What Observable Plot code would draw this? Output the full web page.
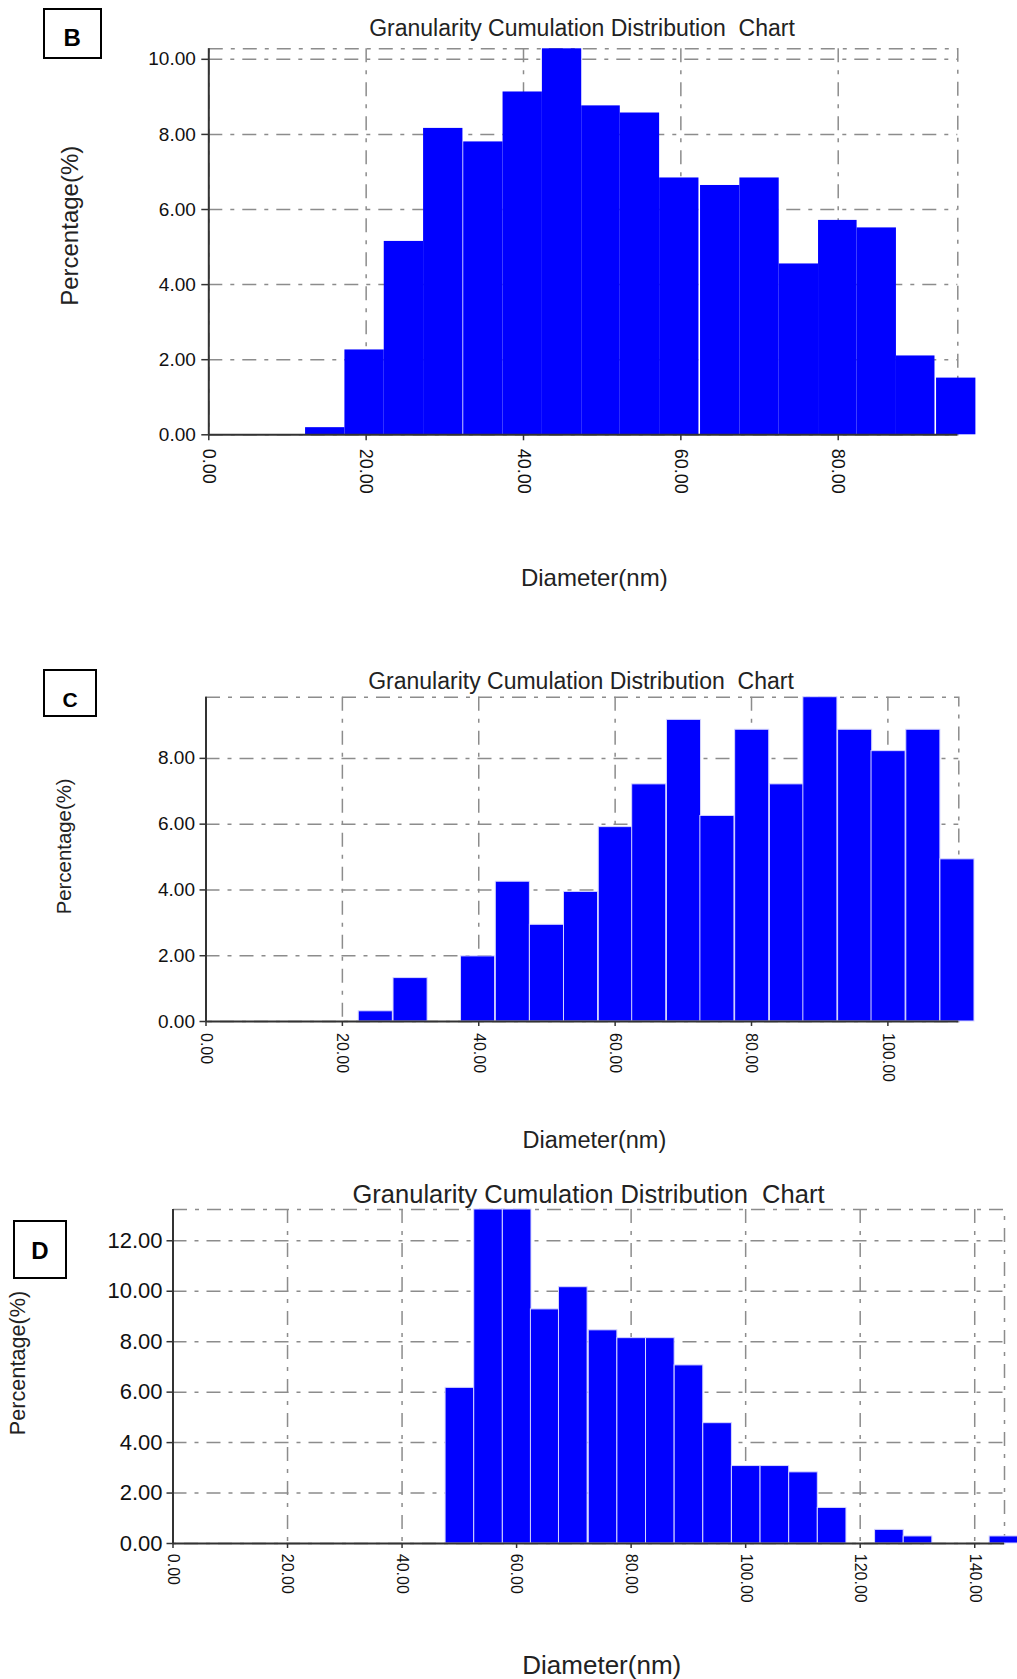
<!DOCTYPE html>
<html>
<head>
<meta charset="utf-8">
<script src="https://cdn.jsdelivr.net/npm/d3@7"></script>
<script src="https://cdn.jsdelivr.net/npm/@observablehq/plot@0.6"></script>
<style>
  body { margin: 0; background: #fff; }
  #page { position: relative; width: 1017px; height: 1679px; overflow: hidden; background: #fff;
          font-family: "Liberation Sans", Arial, Helvetica, sans-serif; }
  .title { position: absolute; white-space: nowrap; text-align: center; line-height: 1; color: #222; }
  .box { position: absolute; box-sizing: border-box; border: 2px solid #000; }
  .letter { position: absolute; text-align: center; line-height: 1; font-weight: bold; color: #000; }
  .panel { position: absolute; left: 0; }
  .panel svg { overflow: visible; }
</style>
</head>
<body>
<div id="page"></div>
<script>
// ---------- text ----------
const titleText = "Granularity Cumulation Distribution\u00a0 Chart";
const xLabel = "Diameter(nm)";
const yLabel = "Percentage(%)";
const panelLetters = ["B", "C", "D"];

// ---------- panel B ----------
const bStart = [12.3, 17.3, 22.3, 27.3, 32.4, 37.4, 42.4, 47.4, 52.3, 57.3, 62.5, 67.5, 72.5, 77.5, 82.4, 87.4, 92.5];
const bEnd   = [17.3, 22.3, 27.3, 32.3, 37.4, 42.4, 47.4, 52.3, 57.3, 62.3, 67.5, 72.5, 77.5, 82.4, 87.4, 92.3, 97.5];
const bPct   = [0.19, 2.26, 5.15, 8.16, 7.80, 9.13, 10.28, 8.76, 8.57, 6.84, 6.64, 6.84, 4.55, 5.71, 5.51, 2.10, 1.51];
const bXTicks = [0, 20, 40, 60, 80];
const bYTicks = [0, 2, 4, 6, 8, 10];
const bXMax = 95.2, bYMax = 10.28;

// ---------- panel C ----------
const cStart = [22.4, 27.5, 37.4, 42.5, 47.5, 52.5, 57.6, 62.5, 67.6, 72.5, 77.6, 82.7, 87.6, 92.7, 97.6, 102.7, 107.7];
const cPct   = [0.31, 1.32, 1.98, 4.25, 2.94, 3.94, 5.91, 7.21, 9.17, 6.25, 8.87, 7.21, 9.86, 8.87, 8.22, 8.87, 4.93];
const cXTicks = [0, 20, 40, 60, 80, 100];
const cYTicks = [0, 2, 4, 6, 8];
const cXMax = 110.4, cYMax = 9.86;

// ---------- panel D ----------
const dStart = [47.6, 52.6, 57.6, 62.5, 67.4, 72.6, 77.6, 82.6, 87.6, 92.6, 97.6, 102.6, 107.6, 112.6, 122.6, 127.6, 142.6];
const dPct   = [6.17, 13.24, 13.24, 9.28, 10.16, 8.45, 8.14, 8.14, 7.06, 4.77, 3.07, 3.07, 2.82, 1.41, 0.54, 0.28, 0.28];
const dXTicks = [0, 20, 40, 60, 80, 100, 120, 140];
const dYTicks = [0, 2, 4, 6, 8, 10, 12];
const dXMax = 145.2, dYMax = 13.24;

const binWidth = 5;

// ---------- drawing ----------
const page = document.getElementById("page");
const fmt = d3.format(".2f");
const gridColor = "#8c8c8c";
const dash = "14,8,4,8";

function addDiv(cls, text, style) {
  const el = document.createElement("div");
  el.className = cls;
  if (text != null) el.textContent = text;
  Object.assign(el.style, style);
  page.appendChild(el);
  return el;
}

function drawPanel(cfg) {
  const rows = cfg.pct.map((p, i) => ({x1: cfg.start[i], x2: cfg.end[i], y: p}));
  const chart = Plot.plot({
    width: 1017,
    height: cfg.height,
    marginTop: cfg.mt, marginBottom: cfg.mb, marginLeft: cfg.ml, marginRight: cfg.mr,
    style: {fontFamily: '"Liberation Sans", Arial, sans-serif', color: "#111", background: "transparent", overflow: "visible"},
    x: {domain: [0, cfg.xMax]},
    y: {domain: [0, cfg.yMax]},
    marks: [
      Plot.gridX(cfg.xTicks.filter(t => t > 0), {stroke: gridColor, strokeOpacity: 1, strokeWidth: 1.5, strokeDasharray: dash}),
      Plot.gridY(cfg.yTicks.filter(t => t > 0), {stroke: gridColor, strokeOpacity: 1, strokeWidth: 1.5, strokeDasharray: dash}),
      Plot.frame({stroke: gridColor, strokeWidth: 1.5, strokeDasharray: dash}),
      Plot.rect(rows, {x1: "x1", x2: "x2", y1: 0, y2: "y", fill: "#0000ff",
                       stroke: cfg.barStroke, strokeWidth: cfg.barStroke === "none" ? 0 : 1}),
      Plot.ruleX([0], {stroke: "#333", strokeWidth: 2}),
      Plot.ruleY([0], {stroke: "#333", strokeWidth: 2}),
      Plot.axisY(cfg.yTicks, {tickFormat: fmt, tickSize: cfg.yTickSize, tickPadding: cfg.yTickPad,
                              fontSize: cfg.yTickFont, label: null, stroke: "#333", strokeWidth: 1.5}),
      Plot.axisX(cfg.xTicks, {tickFormat: fmt, tickSize: cfg.xTickSize, tickPadding: cfg.xTickPad, tickRotate: 90,
                              fontSize: cfg.xTickFont, label: null, stroke: "#333", strokeWidth: 1.5}),
      Plot.text([yLabel], {text: d => d, frameAnchor: "left", textAnchor: "middle", rotate: -90, lineAnchor: "top",
                           dx: cfg.yLabDx, dy: cfg.yLabDy, fontSize: cfg.yLabFont, fill: "#222"}),
      Plot.text([xLabel], {text: d => d, frameAnchor: "bottom", textAnchor: "middle", lineAnchor: "bottom",
                           dx: cfg.xLabDx, dy: cfg.xLabDy, fontSize: cfg.xLabFont, fill: "#222"})
    ]
  });
  const wrap = addDiv("panel", null, {top: cfg.top + "px"});
  wrap.appendChild(chart);

  // title above the chart
  addDiv("title", titleText, {left: (cfg.titleX - 350) + "px", width: "700px", top: cfg.titleTop + "px",
                               fontSize: cfg.titleFont + "px"});
  // panel letter box
  const b = cfg.box;
  addDiv("box", null, {left: b.x + "px", top: b.y + "px", width: b.w + "px", height: b.h + "px"});
  addDiv("letter", cfg.letter, {left: b.x + "px", width: b.w + "px", top: b.ly + "px", fontSize: b.fs + "px"});
}

drawPanel({
  letter: panelLetters[0],
  start: bStart, end: bEnd, pct: bPct, xTicks: bXTicks, yTicks: bYTicks, xMax: bXMax, yMax: bYMax,
  top: 44, height: 556, mt: 4.3, mb: 165.7, ml: 208.3, mr: 59.7,
  barStroke: "none",
  yTickSize: 7, yTickPad: 6, yTickFont: 19,
  xTickSize: 6, xTickPad: 8, xTickFont: 18,
  yLabDx: -148, yLabDy: -16, yLabFont: 24,
  xLabDx: 11, xLabDy: 150.7, xLabFont: 24,
  titleX: 582, titleTop: 17, titleFont: 23,
  box: {x: 42.7, y: 8.3, w: 59, h: 51, fs: 24, ly: 26.3}
});

drawPanel({
  letter: panelLetters[1],
  start: cStart, end: cStart.map(s => s + binWidth), pct: cPct, xTicks: cXTicks, yTicks: cYTicks, xMax: cXMax, yMax: cYMax,
  top: 692, height: 468, mt: 4.7, mb: 139, ml: 205.5, mr: 58.7,
  barStroke: "#d6d6ff",
  yTickSize: 6, yTickPad: 5, yTickFont: 19,
  xTickSize: 5, xTickPad: 6.5, xTickFont: 16,
  yLabDx: -149, yLabDy: -13, yLabFont: 20.4,
  xLabDx: 12, xLabDy: 126, xLabFont: 23.5,
  titleX: 581, titleTop: 670, titleFont: 23,
  box: {x: 42.8, y: 669.3, w: 54.4, h: 47.4, fs: 21, ly: 688.7}
});

drawPanel({
  letter: panelLetters[2],
  start: dStart, end: dStart.map(s => s + binWidth), pct: dPct, xTicks: dXTicks, yTicks: dYTicks, xMax: dXMax, yMax: dYMax,
  top: 1205, height: 474, mt: 4, mb: 136, ml: 172.5, mr: 13,
  barStroke: "#d6d6ff",
  yTickSize: 6, yTickPad: 4.5, yTickFont: 22,
  xTickSize: 5, xTickPad: 5.3, xTickFont: 16,
  yLabDx: -163, yLabDy: -13.5, yLabFont: 21.7,
  xLabDx: 13, xLabDy: 130, xLabFont: 26,
  titleX: 588.5, titleTop: 1181.7, titleFont: 25.5,
  box: {x: 13, y: 1220, w: 54, h: 59, fs: 24, ly: 1238.8}
});
</script>
</body>
</html>
